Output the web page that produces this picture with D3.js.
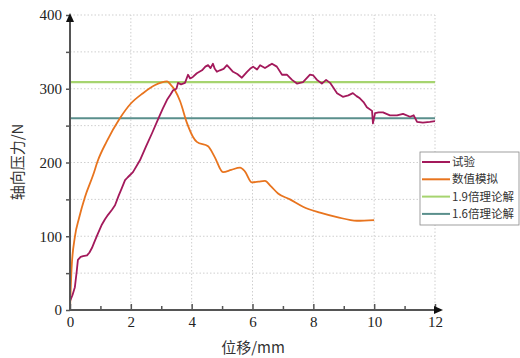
<!DOCTYPE html>
<html lang="zh">
<head>
  <meta charset="UTF-8">
  <title>轴向压力-位移</title>
  <style>
    body { margin: 0; background: #fff; }
    svg { display: block; }
  </style>
</head>
<body>
  <svg class="chart"></svg>
  <script src="https://cdn.jsdelivr.net/npm/d3@7"></script>
  <script>
    var w = 520, h = 358;

    // 试验 (test) curve, displacement mm / force N
    var testX = [0, 0.08, 0.16, 0.22, 0.26, 0.35, 0.43, 0.56, 0.64, 0.72, 0.82, 0.92, 1.05, 1.15, 1.25, 1.38, 1.48, 1.6, 1.7, 1.81, 1.9, 2.07, 2.3, 2.5, 2.7, 2.89, 3.05, 3.19, 3.3, 3.39, 3.5, 3.55, 3.65, 3.78, 3.88, 3.95, 4.04, 4.17, 4.34, 4.45, 4.54, 4.62, 4.70, 4.76, 4.83, 4.93, 5.05, 5.16, 5.25, 5.36, 5.5, 5.65, 5.82, 5.92, 6.02, 6.15, 6.25, 6.41, 6.52, 6.64, 6.80, 6.97, 7.13, 7.3, 7.46, 7.66, 7.89, 8.0, 8.12, 8.28, 8.42, 8.55, 8.65, 8.78, 8.97, 9.15, 9.3, 9.42, 9.53, 9.65, 9.76, 9.93, 9.96, 10.03, 10.15, 10.29, 10.52, 10.75, 10.95, 11.18, 11.3, 11.41, 11.6, 11.83, 12.0];
    var testY = [12, 20, 31, 52, 68, 72, 73, 74, 78, 84, 94, 104, 116, 123, 129, 136, 142, 155, 165, 176, 180, 187, 203, 222, 240, 258, 273, 285, 292, 298, 300, 308, 306, 308, 319, 314, 316, 321, 325, 330, 332, 328, 334, 327, 323, 325, 327, 332, 328, 323, 320, 315, 323, 327, 330, 326, 332, 328, 331, 334, 330, 319, 319, 312, 307, 309, 319, 318, 312, 307, 312, 308, 302, 294, 289, 291, 294, 290, 287, 282, 275, 270, 253, 267, 268, 268, 264, 264, 266, 262, 264, 255, 254, 255, 256];

    // 数值模拟 (simulation) curve
    var simX = [0, 0.05, 0.16, 0.3, 0.49, 0.76, 0.92, 1.2, 1.64, 2.0, 2.4, 2.8, 3.19, 3.3, 3.45, 3.62, 3.85, 4.04, 4.17, 4.54, 4.75, 5.03, 5.3, 5.59, 5.75, 5.98, 6.2, 6.41, 6.6, 6.84, 7.23, 7.66, 8.22, 8.78, 9.43, 10.0];
    var simY = [0, 55, 99, 125, 153, 183, 203, 228, 260, 280, 294, 305, 310, 306, 298, 283, 253, 235, 228, 222, 208, 187, 190, 193, 188, 173, 174, 175, 168, 158, 150, 140, 132, 126, 121, 122];

    // theoretical solutions
    var theory = [
      {name: "1.9倍理论解", value: 309, color: "#a6d46f"},
      {name: "1.6倍理论解", value: 260, color: "#5a8f8c"}
    ];

    var legendNames = ["试验", "数值模拟", "1.9倍理论解", "1.6倍理论解"];
    var legendColors = ["#a3195b", "#e8741e", "#a6d46f", "#5a8f8c"];

    var xTicks = [0, 2, 4, 6, 8, 10, 12];
    var yTicks = [0, 100, 200, 300, 400];

    var svg = d3.select(".chart").attr("width", w).attr("height", h);

    var x = d3.scaleLinear().domain([0, 12]).range([70, 435]);
    var y = d3.scaleLinear().domain([0, 400]).range([310, 15]);

    var serif = "'Liberation Serif', 'Times New Roman', serif";
    var cjk = "'Noto Sans CJK SC', serif";

    // grid
    var grid = svg.append("g").attr("stroke", "#cfcfcf").attr("stroke-dasharray", "1.5,2").attr("stroke-width", 1);
    grid.selectAll("line.gx").data(d3.range(2, 13, 2)).enter().append("line")
      .attr("x1", d => x(d)).attr("x2", d => x(d)).attr("y1", y(0)).attr("y2", y(400));
    grid.selectAll("line.gy").data(d3.range(50, 401, 50)).enter().append("line")
      .attr("x1", x(0)).attr("x2", x(12)).attr("y1", d => y(d)).attr("y2", d => y(d));

    // theory lines
    svg.selectAll("line.theory").data(theory).enter().append("line")
      .attr("x1", x(0)).attr("x2", x(12))
      .attr("y1", d => y(d.value)).attr("y2", d => y(d.value))
      .attr("stroke", d => d.color).attr("stroke-width", 2.2);

    var line = d3.line().x(d => x(d[0])).y(d => y(d[1]));

    svg.append("path")
      .attr("d", line.curve(d3.curveMonotoneX)(d3.zip(simX, simY)))
      .attr("fill", "none").attr("stroke", legendColors[1]).attr("stroke-width", 1.8);

    svg.append("path")
      .attr("d", line.curve(d3.curveLinear)(d3.zip(testX, testY)))
      .attr("fill", "none").attr("stroke", legendColors[0]).attr("stroke-width", 1.8)
      .attr("stroke-linejoin", "round");

    // axes
    var axisColor = "#555";
    var xAxis = d3.axisBottom(x).tickValues(d3.range(0, 13, 1)).tickSizeInner(0).tickSizeOuter(0)
      .tickFormat(d => xTicks.indexOf(d) >= 0 ? d : "");
    var gx = svg.append("g").attr("transform", "translate(0," + y(0) + ")").call(xAxis);
    gx.select(".domain").remove();
    gx.selectAll(".tick line")
      .attr("y2", (d) => d % 2 === 0 ? -6 : -4)
      .attr("stroke", axisColor).attr("stroke-width", 1.5);
    gx.selectAll(".tick text").attr("y", 6).attr("dy", "0.71em")
      .attr("font-family", serif).attr("font-size", 15).attr("fill", "#222");

    var yAxis = d3.axisLeft(y).tickValues(d3.range(0, 401, 50)).tickSizeInner(4).tickSizeOuter(0)
      .tickPadding(4)
      .tickFormat(d => yTicks.indexOf(d) >= 0 ? d : "");
    var gy = svg.append("g").attr("transform", "translate(" + x(0) + ",0)").call(yAxis);
    gy.select(".domain").remove();
    gy.selectAll(".tick line").attr("stroke", axisColor).attr("stroke-width", 1.5);
    gy.selectAll(".tick text").attr("font-family", serif).attr("font-size", 15).attr("fill", "#222");

    svg.append("line").attr("x1", x(0)).attr("x2", x(12) + 2).attr("y1", y(0)).attr("y2", y(0))
      .attr("stroke", axisColor).attr("stroke-width", 2);
    svg.append("line").attr("x1", x(0)).attr("x2", x(0)).attr("y1", y(0) + 1).attr("y2", y(400) + 4)
      .attr("stroke", axisColor).attr("stroke-width", 2);

    // arrow heads
    svg.append("path")
      .attr("d", "M" + (x(0) - 4) + "," + (y(400) + 7) + "L" + x(0) + "," + (y(400) - 2) + "L" + (x(0) + 4) + "," + (y(400) + 7) + "Z")
      .attr("fill", "#111");
    svg.append("path")
      .attr("d", "M" + (x(12) - 1) + "," + (y(0) - 4) + "L" + (x(12) + 8) + "," + y(0) + "L" + (x(12) - 1) + "," + (y(0) + 4) + "Z")
      .attr("fill", "#111");

    // axis titles
    svg.append("text").text("位移/mm")
      .attr("x", 253).attr("y", 353).attr("text-anchor", "middle")
      .attr("font-family", cjk).attr("font-size", 15).attr("fill", "#333");
    svg.append("text").text("轴向压力/N")
      .attr("transform", "translate(23,162) rotate(-90)").attr("text-anchor", "middle")
      .attr("font-family", cjk).attr("font-size", 15).attr("fill", "#333");

    // legend
    var lg = svg.append("g").attr("transform", "translate(420,152)");
    lg.append("rect").attr("width", 99).attr("height", 73)
      .attr("fill", "#fff").attr("stroke", "#888").attr("stroke-width", 0.8);
    var items = lg.selectAll("g.item").data(legendNames).enter().append("g")
      .attr("transform", (d, i) => "translate(0," + (10 + i * 17.3) + ")");
    items.append("line").attr("x1", 2).attr("x2", 30).attr("y1", 0).attr("y2", 0)
      .attr("stroke", (d, i) => legendColors[i]).attr("stroke-width", 2);
    items.append("text").text(d => d)
      .attr("x", 32).attr("y", 0).attr("dy", "0.35em")
      .attr("font-family", cjk).attr("font-size", 11.5).attr("fill", "#333");
  </script>
</body>
</html>
